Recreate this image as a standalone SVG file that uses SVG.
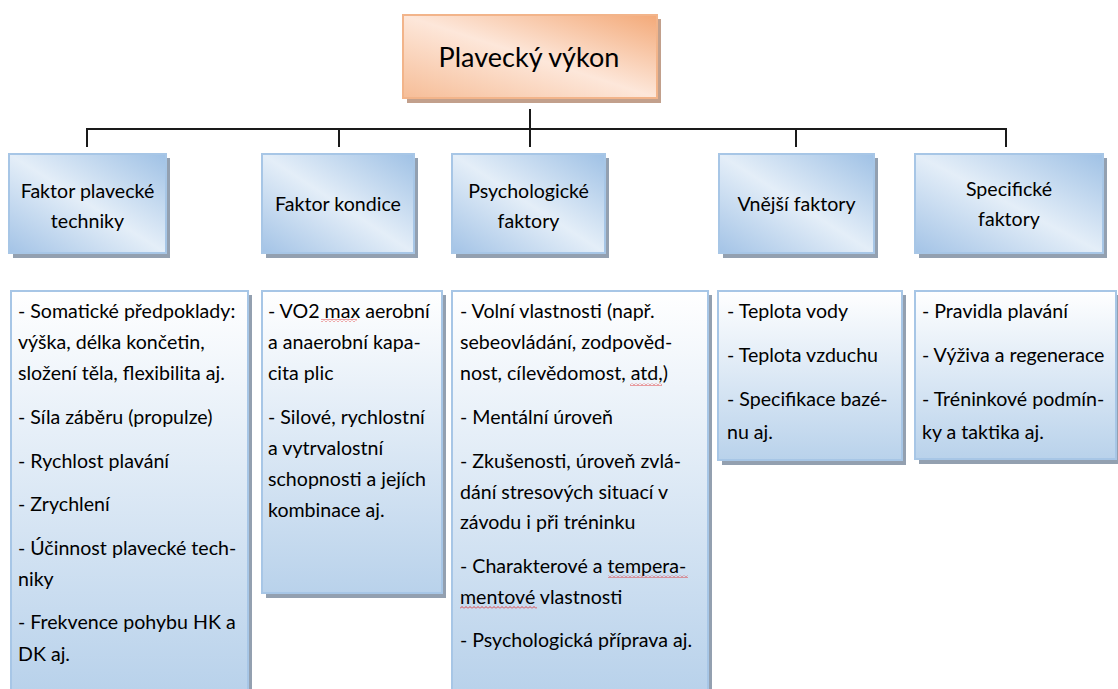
<svg xmlns="http://www.w3.org/2000/svg" width="1118" height="689" viewBox="0 0 1118 689">
<defs>
<linearGradient id="gBlue" x1="1" y1="0" x2="0" y2="1">
<stop offset="0" stop-color="#9fc1e5"/>
<stop offset="0.5" stop-color="#e4eef8"/>
<stop offset="1" stop-color="#a3c3e6"/>
</linearGradient>
<linearGradient id="gOrange" x1="1" y1="0" x2="0" y2="1">
<stop offset="0" stop-color="#f3a978"/>
<stop offset="0.5" stop-color="#fde7da"/>
<stop offset="1" stop-color="#f6bd97"/>
</linearGradient>
<linearGradient id="gList" x1="0" y1="0" x2="0" y2="1">
<stop offset="0" stop-color="#ffffff"/>
<stop offset="1" stop-color="#b9d2eb"/>
</linearGradient>
<linearGradient id="gListA" gradientUnits="userSpaceOnUse" x1="0" y1="291" x2="0" y2="689">
<stop offset="0" stop-color="#ffffff"/>
<stop offset="1" stop-color="#b9d2eb"/>
</linearGradient>
<pattern id="wavy" patternUnits="userSpaceOnUse" width="4" height="3">
<path d="M0 2.5 L2 0.5 L4 2.5" stroke="#e03030" stroke-width="0.9" fill="none"/>
</pattern>
</defs>
<style>
.t{font-family:Lato,"Liberation Sans",sans-serif;fill:#000000}
.title{font-size:27px}
.hdr{font-size:19.6px}
.body{font-size:19.6px}
.hbox{fill:url(#gBlue);stroke:#a7c6e6;stroke-width:2}
.lbox{fill:url(#gList);stroke:#a7c6e6;stroke-width:2}
.sh{fill:#93a0b0}
.shO{fill:#c2a08c}
.conn{stroke:#1a1a1a;stroke-width:2;fill:none}
.sq{fill:url(#wavy)}
</style>
<rect width="1118" height="689" fill="#ffffff"/>

<g id="connectors">
<line class="conn" x1="530" y1="109" x2="530" y2="147"/>
<polyline class="conn" points="87,147 87,129 1006,129 1006,147"/>
<line class="conn" x1="339" y1="129" x2="339" y2="147"/>
<line class="conn" x1="796" y1="129" x2="796" y2="147"/>
</g>

<g id="n-plavecky-vykon">
<rect class="shO" x="407" y="19" width="254" height="84"/>
<rect x="403" y="15" width="254" height="83" fill="url(#gOrange)" stroke="#f2b48a" stroke-width="2"/>
<text class="t title" x="529" y="67" text-anchor="middle">Plavecký výkon</text>
</g>

<g id="n-technika">
<rect class="sh" x="13" y="158" width="157" height="100"/>
<rect class="hbox" x="9" y="154" width="157" height="99"/>
<text class="t hdr" x="87.5" y="198" text-anchor="middle">Faktor plavecké</text>
<text class="t hdr" x="87.5" y="228" text-anchor="middle">techniky</text>
</g>

<g id="n-kondice">
<rect class="sh" x="266" y="158" width="152" height="100"/>
<rect class="hbox" x="262" y="154" width="152" height="99"/>
<text class="t hdr" x="338" y="211" text-anchor="middle">Faktor kondice</text>
</g>

<g id="n-psycho">
<rect class="sh" x="456" y="158" width="153" height="100"/>
<rect class="hbox" x="452" y="154" width="153" height="99"/>
<text class="t hdr" x="528.5" y="198" text-anchor="middle">Psychologické</text>
<text class="t hdr" x="528.5" y="228" text-anchor="middle">faktory</text>
</g>

<g id="n-vnejsi">
<rect class="sh" x="723" y="158" width="155" height="100"/>
<rect class="hbox" x="719" y="154" width="155" height="99"/>
<text class="t hdr" x="796.5" y="211" text-anchor="middle">Vnější faktory</text>
</g>

<g id="n-specificke">
<rect class="sh" x="919" y="158" width="188" height="100"/>
<rect class="hbox" x="915" y="154" width="188" height="99"/>
<text class="t hdr" x="1009" y="196" text-anchor="middle">Specifické</text>
<text class="t hdr" x="1009" y="226" text-anchor="middle">faktory</text>
</g>

<g id="n-list-technika">
<rect class="sh" x="15" y="295" width="237" height="410"/>
<rect x="11" y="291" width="237" height="410" fill="url(#gListA)" stroke="#a7c6e6" stroke-width="2"/>
<text class="t body" x="18" y="318">- Somatické předpoklady:</text>
<text class="t body" x="18" y="349">výška, délka končetin,</text>
<text class="t body" x="18" y="380">složení těla, flexibilita aj.</text>
<text class="t body" x="18" y="424">- Síla záběru (propulze)</text>
<text class="t body" x="18" y="468">- Rychlost plavání</text>
<text class="t body" x="18" y="511">- Zrychlení</text>
<text class="t body" x="18" y="555">- Účinnost plavecké tech-</text>
<text class="t body" x="18" y="586">niky</text>
<text class="t body" x="18" y="629">- Frekvence pohybu HK a</text>
<text class="t body" x="18" y="661">DK aj.</text>
</g>

<g id="n-list-kondice">
<rect class="sh" x="266" y="295" width="180" height="303"/>
<rect class="lbox" x="262" y="291" width="180" height="302"/>
<text class="t body" x="268" y="318">- VO2 max aerobní</text>
<text class="t body" x="268" y="349">a anaerobní kapa-</text>
<text class="t body" x="268" y="380">cita plic</text>
<text class="t body" x="268" y="424">- Silové, rychlostní</text>
<text class="t body" x="268" y="455">a vytrvalostní</text>
<text class="t body" x="268" y="486">schopnosti a jejích</text>
<text class="t body" x="268" y="517">kombinace aj.</text>
<rect class="sq" x="321" y="319" width="36" height="3"/>
</g>

<g id="n-list-psycho">
<rect class="sh" x="456" y="295" width="256" height="410"/>
<rect x="452" y="291" width="256" height="410" fill="url(#gListA)" stroke="#a7c6e6" stroke-width="2"/>
<text class="t body" x="460" y="318">- Volní vlastnosti (např.</text>
<text class="t body" x="460" y="349">sebeovládání, zodpověd-</text>
<text class="t body" x="460" y="380">nost, cílevědomost, atd,)</text>
<text class="t body" x="460" y="424">- Mentální úroveň</text>
<text class="t body" x="460" y="468">- Zkušenosti, úroveň zvlá-</text>
<text class="t body" x="460" y="499">dání stresových situací v</text>
<text class="t body" x="460" y="529">závodu i při tréninku</text>
<text class="t body" x="460" y="573">- Charakterové a tempera-</text>
<text class="t body" x="460" y="604">mentové vlastnosti</text>
<text class="t body" x="460" y="647">- Psychologická příprava aj.</text>
<rect class="sq" x="630" y="383" width="32" height="3"/>
<rect class="sq" x="608" y="575" width="80" height="3"/>
<rect class="sq" x="460" y="606" width="77" height="3"/>
</g>

<g id="n-list-vnejsi">
<rect class="sh" x="722" y="295" width="184" height="170"/>
<rect class="lbox" x="718" y="291" width="184" height="169"/>
<text class="t body" x="727" y="318">- Teplota vody</text>
<text class="t body" x="727" y="362">- Teplota vzduchu</text>
<text class="t body" x="727" y="406">- Specifikace bazé-</text>
<text class="t body" x="727" y="439">nu aj.</text>
</g>

<g id="n-list-specificke">
<rect class="sh" x="919" y="295" width="210" height="169"/>
<rect class="lbox" x="915" y="291" width="201" height="168"/>
<text class="t body" x="922" y="318">- Pravidla plavání</text>
<text class="t body" x="922" y="362">- Výživa a regenerace</text>
<text class="t body" x="922" y="406">- Tréninkové podmín-</text>
<text class="t body" x="922" y="439">ky a taktika aj.</text>
</g>
</svg>
